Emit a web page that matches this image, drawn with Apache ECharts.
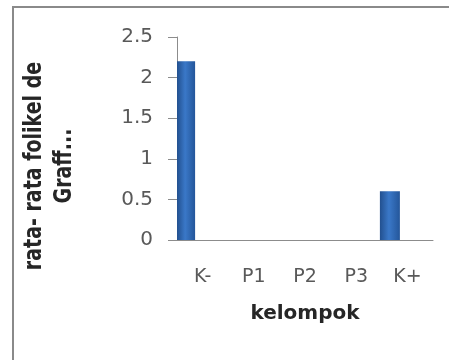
<!DOCTYPE html>
<html>
<head>
<meta charset="utf-8">
<script src="https://cdn.jsdelivr.net/npm/echarts@6/dist/echarts.min.js"></script>
<style>
  html, body { margin: 0; padding: 0; background: #fff; }
  #chart { width: 449px; height: 360px; }
</style>
</head>
<body>
<div id="chart"></div>
<script>
// Groups and mean Graafian follicle counts
const categories = ['K-', 'P1', 'P2', 'P3', 'K+'];
const folikelValues = [2.2, 0, 0, 0, 0.6];
// second series of the workbook has no values
const emptyValues = [null, null, null, null, null];
const yTitle = 'rata- rata folikel de\nGraff...';
const xTitle = 'kelompok';

const chart = echarts.init(document.getElementById('chart'), null, { renderer: 'canvas' });

const barFill = new echarts.graphic.LinearGradient(0, 0, 1, 0, [
  { offset: 0, color: '#22508f' },
  { offset: 0.45, color: '#3a78c8' },
  { offset: 1, color: '#24569a' }
]);

chart.setOption({
  animation: false,
  backgroundColor: '#ffffff',
  graphic: [
    {
      type: 'rect',
      shape: { x: 13, y: 7, width: 460, height: 380 },
      style: { fill: 'none', stroke: '#8a8a8a', lineWidth: 2 },
      silent: true
    },
    {
      // vertical axis title, two centred lines reading bottom to top
      type: 'text',
      x: 50,
      y: 166,
      rotation: Math.PI / 2,
      scaleY: 1.3,
      style: {
        text: yTitle,
        fontFamily: 'DejaVu Sans',
        fontWeight: 'bold',
        fontSize: 19,
        lineHeight: 23,
        fill: '#262626',
        align: 'center',
        verticalAlign: 'middle'
      },
      silent: true
    }
  ],
  grid: { left: 177, right: 16, top: 37, bottom: 120 },
  xAxis: {
    type: 'category',
    data: categories,
    name: xTitle,
    nameLocation: 'middle',
    nameGap: 64,
    nameTextStyle: { fontFamily: 'DejaVu Sans', fontWeight: 'bold', fontSize: 20, color: '#262626' },
    axisLine: { lineStyle: { color: '#8c8c8c', width: 1 } },
    axisTick: { show: false },
    axisLabel: { fontFamily: 'DejaVu Sans', fontSize: 19, color: '#595959', margin: 28 }
  },
  yAxis: {
    type: 'value',
    min: 0,
    max: 2.5,
    interval: 0.5,
    axisLine: { show: true, lineStyle: { color: '#8c8c8c', width: 1 } },
    axisTick: { show: true, length: 9, lineStyle: { color: '#8c8c8c' } },
    splitLine: { show: false },
    axisLabel: { fontFamily: 'DejaVu Sans', fontSize: 20, color: '#595959', margin: 24 }
  },
  series: [
    {
      type: 'bar',
      data: folikelValues,
      barWidth: 20,
      barGap: '75%',
      itemStyle: { color: barFill }
    },
    {
      type: 'bar',
      data: emptyValues,
      barWidth: 20
    }
  ]
});
</script>
</body>
</html>
